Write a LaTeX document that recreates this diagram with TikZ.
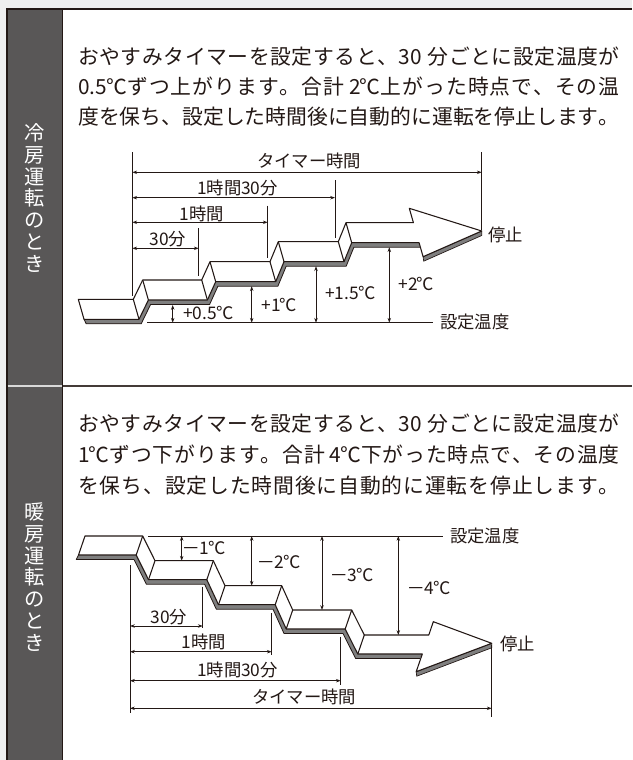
\documentclass[tikz,border=0pt]{standalone}
\usepackage{fontspec}
\setmainfont{Noto Sans CJK JP}
\usetikzlibrary{arrows.meta}
\definecolor{ink}{HTML}{231815}
\definecolor{colbg}{HTML}{595757}
\definecolor{pagebg}{HTML}{EFEFEF}
\definecolor{bandgray}{HTML}{7F7F7F}
\newcommand{\bodyfs}{\fontsize{15.6pt}{20pt}\selectfont}
\newcommand{\labfs}{\fontsize{13pt}{16pt}\selectfont}
\newcommand{\vertfs}{\fontsize{15.2pt}{16.3pt}\selectfont}
\newcommand{\dgC}{\makebox[0.92em][c]{℃}}
\newcommand{\mns}{\scalebox{1.6}[1]{−}\kern0.5pt}
% grouped runs that must not be spread
\newcommand{\tThirty}{\mbox{30\kern4pt}}
\newcommand{\tHalf}{\mbox{0.5\dgC}}
\newcommand{\tTwo}{\mbox{\kern3pt 2\dgC}}
\newcommand{\tOne}{\mbox{1\dgC}}
\newcommand{\tFour}{\mbox{\kern3pt 4\dgC}}
% spread the characters of a line evenly over a fixed width
\def\spreadloop#1{\ifx#1\relax\else #1\hskip0pt plus 1fil\relax\expandafter\spreadloop\fi}
\newcommand{\fullline}[1]{\hbox to 406pt{\spreadloop#1\relax\unskip}}
\tikzset{
  bodytext/.style={anchor=west, inner sep=0pt, text=ink, font=\bodyfs, text height=13.7pt, text depth=1.9pt},
  lab/.style={inner sep=0pt, text=ink, font=\labfs, text height=11.4pt, text depth=1.6pt},
  vlab/.style={inner sep=0pt, text=white, font=\vertfs, align=center},
  dimline/.style={draw=ink, line width=0.6pt, {Stealth[length=3.6pt,width=2.6pt]}-{Stealth[length=3.6pt,width=2.6pt]}},
  extline/.style={draw=ink, line width=0.6pt},
  face/.style={fill=white, draw=ink, line width=0.8pt, line join=round},
  fold/.style={draw=ink, line width=0.8pt},
  bandst/.style={fill=bandgray, draw=ink, line width=0.5pt, line join=round}
}
\begin{document}
\begin{tikzpicture}[x=0.75pt, y=-0.75pt]
\useasboundingbox (0,0) rectangle (632,760);
% ---------- table ----------
\fill[pagebg] (0,0) rectangle (632,760);
\fill[white] (6.5,8.5) rectangle (632,760);
\fill[colbg] (6.5,8.5) rectangle (62.5,760);
\draw[ink, line width=1.5pt] (6.5,760) -- (6.5,8.5) -- (632,8.5);
\draw[ink, line width=1.2pt] (62.5,8.5) -- (62.5,760);
\draw[ink!85, line width=1.5pt] (63,386) -- (632,386);
\draw[white!85!black, line width=1.5pt] (7.5,386) -- (61.8,386);
% vertical labels
\node[vlab] (vl1) at (34.5,198) {冷\\房\\運\\転\\の\\と\\き};
\node[vlab] (vl2) at (34.5,577) {暖\\房\\運\\転\\の\\と\\き};
% body text
\node[bodytext] (t11) at (78,57) {\fullline{おやすみタイマーを設定すると、\tThirty 分ごとに設定温度が}};
\node[bodytext] (t12) at (78,87) {\fullline{\tHalf ずつ上がります。合計\tTwo 上がった時点で、その温}};
\node[bodytext] (t13) at (78,117) {\fullline{度を保ち、設定した時間後に自動的に運転を停止します。}};
\node[bodytext] (t21) at (78,424) {\fullline{おやすみタイマーを設定すると、\tThirty 分ごとに設定温度が}};
\node[bodytext] (t22) at (78,455) {\fullline{\tOne ずつ下がります。合計\tFour 下がった時点で、その温度}};
\node[bodytext] (t23) at (78,486) {\fullline{を保ち、設定した時間後に自動的に運転を停止します。}};

% ---------- cooling ribbon ----------
\fill[bandgray] (84,319.3) -- (139,319.3) -- (148.4,300) -- (207.4,300) -- (215.7,281.7) -- (275.7,281.7) -- (284,261.7) -- (344,261.7) -- (351.7,242.7) -- (419.1,242.7)
 -- (421.3,247.2) -- (353.9,247.2) -- (346.2,266.2) -- (286.2,266.2) -- (277.9,286.2) -- (217.9,286.2) -- (209.6,304.5) -- (150.6,304.5) -- (141.2,323.8) -- (86.2,323.8) -- cycle;
\draw[ink, line width=0.6pt, line join=round] (84,319.3) -- (86.2,323.8) -- (141.2,323.8) -- (150.6,304.5) -- (209.6,304.5) -- (217.9,286.2) -- (277.9,286.2) -- (286.2,266.2) -- (346.2,266.2) -- (353.9,247.2) -- (421.3,247.2);
\filldraw[bandst] (423.1,256.7) -- (481.7,231) -- (481.7,235.5) -- (423.7,261.2) -- cycle;
\filldraw[face] (78.3,299.3) -- (133.3,299.3) -- (142.7,280) -- (201.7,280) -- (210,261.7) -- (270,261.7) -- (278.3,241.7) -- (338.3,241.7) -- (346,222.7) -- (413.4,222.7) -- (409.3,208.3) -- (481.7,231) -- (423.1,256.7) -- (419.1,242.7) -- (351.7,242.7) -- (344,261.7) -- (284,261.7) -- (275.7,281.7) -- (215.7,281.7) -- (207.4,300) -- (148.4,300) -- (139,319.3) -- (84,319.3) -- cycle;
\draw[fold] (133.3,299.3) -- (139,319.3) (142.7,280) -- (148.4,300) (201.7,280) -- (207.4,300) (210,261.7) -- (215.7,281.7) (270,261.7) -- (275.7,281.7) (278.3,241.7) -- (284,261.7) (338.3,241.7) -- (344,261.7) (346,222.7) -- (351.7,242.7);

% ---------- cooling dimensions ----------
\coordinate (cs1) at (132.3,152); \coordinate (cs2) at (132.3,296);
\coordinate (ce1) at (481.7,152); \coordinate (ce2) at (481.7,230);
\coordinate (c90a) at (335,180); \coordinate (c90b) at (335,238);
\coordinate (c60a) at (267.7,205.7); \coordinate (c60b) at (267.7,258);
\coordinate (c30a) at (198.7,228); \coordinate (c30b) at (198.7,276);
\draw[extline] (cs1) -- (cs2) (ce1) -- (ce2) (c90a) -- (c90b) (c60a) -- (c60b) (c30a) -- (c30b);
\coordinate (ct0) at (132.3,172.3); \coordinate (ct1) at (481.7,172.3);
\coordinate (c9l) at (132.3,197.7); \coordinate (c9r) at (335,197.7);
\coordinate (c6l) at (132.3,222.3); \coordinate (c6r) at (267.7,222.3);
\coordinate (c3l) at (132.3,248.3); \coordinate (c3r) at (198.7,248.3);
\draw[dimline] (ct0) -- (ct1);
\draw[dimline] (c9l) -- (c9r);
\draw[dimline] (c6l) -- (c6r);
\draw[dimline] (c3l) -- (c3r);
\node[lab] (cTimer) at (309,160.5) {タイマー時間};
\node[lab] (c90) at (237.5,188) {1時間30分};
\node[lab] (c60) at (201.7,214) {1時間};
\node[lab] (c30) at (168,239) {30分};
\node[lab, anchor=west] (cStop) at (488,235) {停止};
% setpoint
\coordinate (csp0) at (147.3,322.7); \coordinate (csp1) at (433.3,322.7);
\draw[extline] (csp0) -- (csp1);
\node[lab, anchor=west] (cSet) at (440,322) {設定温度};
\coordinate (cv1a) at (172.7,305); \coordinate (cv1b) at (172.7,322.7);
\coordinate (cv2a) at (251.7,286.2); \coordinate (cv2b) at (251.7,322.7);
\coordinate (cv3a) at (316,266.2); \coordinate (cv3b) at (316,322.7);
\coordinate (cv4a) at (389.3,247.2); \coordinate (cv4b) at (389.3,322.7);
\draw[dimline] (cv1a) -- (cv1b);
\draw[dimline] (cv2a) -- (cv2b);
\draw[dimline] (cv3a) -- (cv3b);
\draw[dimline] (cv4a) -- (cv4b);
\node[lab] (cp1) at (208,313) {+0.5\dgC};
\node[lab] (cp2) at (279,305) {+1\dgC};
\node[lab] (cp3) at (350,293) {+1.5\dgC};
\node[lab] (cp4) at (416,284) {+2\dgC};

% ---------- heating ribbon ----------
\fill[bandgray] (78.5,555) -- (136.2,555) -- (148.5,579.7) -- (206.8,579.7) -- (218.5,604.7) -- (275.2,604.7) -- (286.2,629) -- (345.2,629) -- (357.8,654) -- (422.3,654)
 -- (420.1,658.5) -- (355.6,658.5) -- (343,633.5) -- (284,633.5) -- (273,609.2) -- (216.3,609.2) -- (204.6,584.2) -- (146.3,584.2) -- (134,559.5) -- (76.3,559.5) -- cycle;
\draw[ink, line width=0.6pt, line join=round] (78.5,555) -- (76.3,559.5) -- (134,559.5) -- (146.3,584.2) -- (204.6,584.2) -- (216.3,609.2) -- (273,609.2) -- (284,633.5) -- (343,633.5) -- (355.6,658.5) -- (420.1,658.5);
\filldraw[bandst] (416.2,671.7) -- (491.7,643.3) -- (491.7,647.8) -- (416.7,676.2) -- cycle;
\filldraw[face] (85,536) -- (142.7,536) -- (155,560.7) -- (213.3,560.7) -- (225,585.7) -- (281.7,585.7) -- (292.7,610) -- (351.7,610) -- (364.3,635) -- (428.8,635) -- (433.3,621.7) -- (491.7,643.3) -- (416.2,671.7) -- (422.3,654) -- (357.8,654) -- (345.2,629) -- (286.2,629) -- (275.2,604.7) -- (218.5,604.7) -- (206.8,579.7) -- (148.5,579.7) -- (136.2,555) -- (78.5,555) -- cycle;
\draw[fold] (142.7,536) -- (136.2,555) (155,560.7) -- (148.5,579.7) (213.3,560.7) -- (206.8,579.7) (225,585.7) -- (218.5,604.7) (281.7,585.7) -- (275.2,604.7) (292.7,610) -- (286.2,629) (351.7,610) -- (345.2,629) (364.3,635) -- (357.8,654);

% ---------- heating dimensions ----------
\coordinate (hsp0) at (148.3,536); \coordinate (hsp1) at (443.3,536);
\draw[extline] (hsp0) -- (hsp1);
\node[lab, anchor=west] (hSet) at (450,536) {設定温度};
\coordinate (hv1a) at (181.7,536); \coordinate (hv1b) at (181.7,560.7);
\coordinate (hv2a) at (251.7,536); \coordinate (hv2b) at (251.7,585.7);
\coordinate (hv3a) at (322,536); \coordinate (hv3b) at (322,610);
\coordinate (hv4a) at (398.3,536); \coordinate (hv4b) at (398.3,635);
\draw[dimline] (hv1a) -- (hv1b);
\draw[dimline] (hv2a) -- (hv2b);
\draw[dimline] (hv3a) -- (hv3b);
\draw[dimline] (hv4a) -- (hv4b);
\node[lab] (hm1) at (204,548) {\mns 1\dgC};
\node[lab] (hm2) at (279,562) {\mns 2\dgC};
\node[lab] (hm3) at (352.5,575) {\mns 3\dgC};
\node[lab] (hm4) at (429,588) {\mns 4\dgC};
\coordinate (hs1) at (130,565); \coordinate (hs2) at (130,713);
\coordinate (he1) at (491.7,645); \coordinate (he2) at (491.7,716.7);
\coordinate (h30a) at (202.7,586.7); \coordinate (h30b) at (202.7,628.3);
\coordinate (h60a) at (271.7,613); \coordinate (h60b) at (271.7,655);
\coordinate (h90a) at (340.7,636.7); \coordinate (h90b) at (340.7,685);
\draw[extline] (hs1) -- (hs2) (he1) -- (he2) (h30a) -- (h30b) (h60a) -- (h60b) (h90a) -- (h90b);
\coordinate (h3l) at (130,626); \coordinate (h3r) at (202.7,626);
\coordinate (h6l) at (130,651.7); \coordinate (h6r) at (271.7,651.7);
\coordinate (h9l) at (130,680.7); \coordinate (h9r) at (340.7,680.7);
\coordinate (htl) at (130,708.3); \coordinate (htr) at (491.7,708.3);
\draw[dimline] (h3l) -- (h3r);
\draw[dimline] (h6l) -- (h6r);
\draw[dimline] (h9l) -- (h9r);
\draw[dimline] (htl) -- (htr);
\node[lab] (h30) at (169,616.5) {30分};
\node[lab] (h60) at (204,641.5) {1時間};
\node[lab] (h90) at (237.5,670) {1時間30分};
\node[lab] (hTimer) at (304,696.5) {タイマー時間};
\node[lab, anchor=west] (hStop) at (500,644) {停止};
\end{tikzpicture}
\end{document}
